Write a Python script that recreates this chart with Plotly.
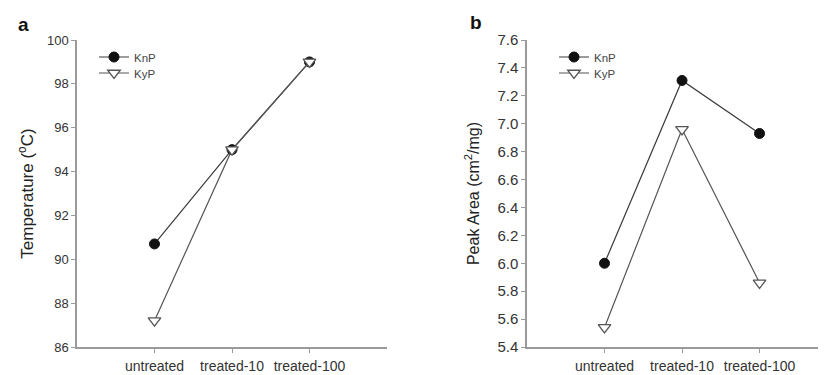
import plotly.graph_objects as go

# the page body adds an 8px offset, so the figure is drawn 8px smaller
OFF = 8
W, H = 826 - OFF, 375 - OFF

categories = ["untreated", "treated-10", "treated-100"]
temp_knp = [90.7, 95.0, 99.0]
temp_kyp = [87.2, 95.0, 99.0]
area_knp = [6.00, 7.31, 6.93]
area_kyp = [5.54, 6.96, 5.86]
temp_ticks = [86, 88, 90, 92, 94, 96, 98, 100]
area_ticks = [5.4, 5.6, 5.8, 6.0, 6.2, 6.4, 6.6, 6.8, 7.0, 7.2, 7.4, 7.6]

xpos = list(range(len(categories)))

def px_x(p):
    return (p - OFF) / W

def px_y(p):
    return 1 - (p - OFF) / H

FONT = "Liberation Sans, Arial, sans-serif"
AX = "#9a9a9a"
LINE = "#3a3a3a"

fig = go.Figure()

def add_pair(knp, kyp, xa, ya, leg1, leg2):
    fig.add_trace(go.Scatter(
        x=xpos, y=knp, mode="lines+markers", name="KnP",
        xaxis=xa, yaxis=ya, legend=leg1,
        line=dict(color=LINE, width=1.2),
        marker=dict(symbol="circle", size=10, color="#111111",
                    line=dict(color="#111111", width=1)),
    ))
    fig.add_trace(go.Scatter(
        x=xpos, y=kyp, mode="lines+markers", name="KyP",
        xaxis=xa, yaxis=ya, legend=leg2,
        line=dict(color="#555555", width=1.2),
        marker=dict(symbol="triangle-down", size=11, color="white",
                    line=dict(color="#555555", width=1.3)),
    ))

add_pair(temp_knp, temp_kyp, "x", "y", "legend", "legend2")
add_pair(area_knp, area_kyp, "x2", "y2", "legend3", "legend4")

ydom = [px_y(347), px_y(40)]

common_x = dict(
    tickmode="array", tickvals=xpos, ticktext=categories,
    showline=True, linecolor=AX, linewidth=1.5,
    ticks="outside", ticklen=4, tickcolor=AX, ticklabelstandoff=1,
    showgrid=False, zeroline=False, automargin=False,
    tickfont=dict(family=FONT, size=14, color="#333333"),
)

def leg(xp, yp):
    return dict(
        x=px_x(xp), y=px_y(yp), xanchor="left", yanchor="middle",
        bgcolor="rgba(0,0,0,0)", font=dict(family=FONT, size=11.5, color="#444444"),
        itemwidth=30, tracegroupgap=0,
    )

fig.update_layout(
    width=W, height=H,
    margin=dict(l=0, r=0, t=0, b=0, autoexpand=False),
    paper_bgcolor="white", plot_bgcolor="white",
    showlegend=True,
    xaxis=dict(domain=[px_x(77), px_x(387)], range=[-1, 3], anchor="y", **common_x),
    yaxis=dict(
        domain=ydom, range=[86, 100], anchor="x",
        tickvals=temp_ticks, automargin=False,
        showline=True, linecolor=AX, linewidth=1.5,
        ticks="outside", ticklen=4, tickcolor=AX,
        showgrid=False, zeroline=False,
        tickfont=dict(family=FONT, size=13, color="#333333"),
        title=dict(text="Temperature (<sup>o</sup>C)", standoff=9,
                   font=dict(family=FONT, size=17, color="#222222")),
    ),
    xaxis2=dict(domain=[px_x(527), px_x(820)], range=[-1, 2.78], anchor="y2", **common_x),
    yaxis2=dict(
        domain=ydom, range=[5.4, 7.6], anchor="x2",
        tickvals=area_ticks, tickformat=".1f", automargin=False,
        showline=True, linecolor=AX, linewidth=1.5,
        ticks="outside", ticklen=4, tickcolor=AX,
        showgrid=False, zeroline=False,
        tickfont=dict(family=FONT, size=15, color="#333333"),
        title=dict(text="Peak Area (cm<sup>2</sup>/mg)", standoff=14,
                   font=dict(family=FONT, size=16, color="#222222")),
    ),
    legend=leg(94, 57),
    legend2=leg(94, 73),
    legend3=leg(554, 57),
    legend4=leg(554, 73),
    annotations=[
        dict(text="<b>a</b>", x=px_x(16), y=px_y(12), xref="paper", yref="paper",
             xanchor="left", yanchor="top", showarrow=False,
             font=dict(family=FONT, size=19, color="#111111")),
        dict(text="<b>b</b>", x=px_x(468), y=px_y(10), xref="paper", yref="paper",
             xanchor="left", yanchor="top", showarrow=False,
             font=dict(family=FONT, size=19, color="#111111")),
    ],
)

fig.write_html("out.html")
